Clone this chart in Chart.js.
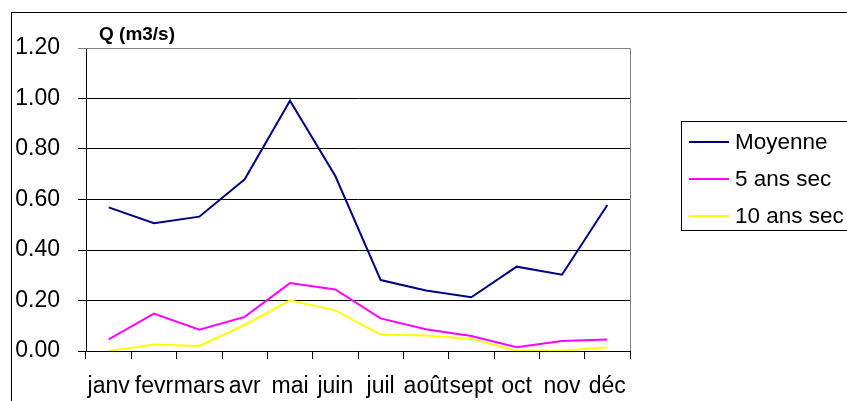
<!DOCTYPE html>
<html>
<head>
<meta charset="utf-8">
<script src="https://cdn.jsdelivr.net/npm/chart.js@4/dist/chart.umd.min.js"></script>
<style>
  html, body { margin: 0; padding: 0; background: #fff; overflow: hidden; }
  #wrap { position: relative; width: 847px; height: 401px; overflow: hidden; font-family: "Liberation Sans", Arial, sans-serif; }
  #frame { position: absolute; left: 11px; top: 12px; width: 1000px; height: 600px; border: 1px solid #000; box-sizing: border-box; pointer-events: none; }
  #c { position: absolute; left: 0; top: 0; }
  #title { position: absolute; left: 99px; top: 24px; font-weight: bold; font-size: 19px; line-height: 19px; white-space: nowrap; }
  #legend { position: absolute; left: 681px; top: 121px; width: 300px; height: 110px; border: 1px solid #000; box-sizing: border-box; }
  .item { position: absolute; left: 0; height: 0; }
  .swatch { position: absolute; left: 7px; width: 40px; height: 2px; }
  .lab { position: absolute; left: 53px; font-size: 22.5px; line-height: 22.5px; white-space: nowrap; }
</style>
</head>
<body>
<div id="wrap">
  <canvas id="c" width="847" height="401"></canvas>
  <div id="frame"></div>
  <div id="title">Q (m3/s)</div>
  <div id="legend"></div>
</div>
<script>
const categories = ["janv", "fevr", "mars", "avr", "mai", "juin", "juil", "août", "sept", "oct", "nov", "déc"];
const moyenne   = [0.569, 0.506, 0.532, 0.680, 0.991, 0.693, 0.281, 0.240, 0.213, 0.334, 0.302, 0.578];
const ansSec5   = [0.046, 0.148, 0.084, 0.135, 0.269, 0.244, 0.129, 0.086, 0.059, 0.015, 0.040, 0.046];
const ansSec10  = [0.000, 0.026, 0.020, 0.103, 0.201, 0.161, 0.065, 0.061, 0.048, 0.001, 0.001, 0.015];
const seriesNames = ["Moyenne", "5 ans sec", "10 ans sec"];
const seriesColors = ["#000080", "#FF00FF", "#FFFF00"];
const yTicks = [0, 0.2, 0.4, 0.6, 0.8, 1.0, 1.2];

const plotBorder = {
  id: 'plotBorder',
  beforeDatasetsDraw(chart) {
    const a = chart.chartArea, ctx = chart.ctx;
    ctx.save();
    ctx.strokeStyle = '#808080';
    ctx.lineWidth = 1;
    ctx.beginPath();
    ctx.moveTo(a.left, a.top + 0.5);
    ctx.lineTo(a.right + 0.5, a.top + 0.5);
    ctx.lineTo(a.right + 0.5, a.bottom);
    ctx.stroke();
    ctx.restore();
  }
};

const FONT = { family: '"Liberation Sans", Arial, sans-serif', size: 23 };

const chart = new Chart(document.getElementById('c'), {
  type: 'line',
  data: {
    labels: categories,
    datasets: [moyenne, ansSec5, ansSec10].map((d, i) => ({
      label: seriesNames[i],
      data: d,
      borderColor: seriesColors[i],
      backgroundColor: seriesColors[i],
      borderWidth: 2,
      pointRadius: 0,
      tension: 0,
      fill: false
    }))
  },
  options: {
    responsive: false,
    animation: false,
    events: [],
    layout: { padding: { left: 0, top: 48, right: 217, bottom: 0 } },
    plugins: { legend: { display: false }, title: { display: false }, tooltip: { enabled: false } },
    scales: {
      x: {
        type: 'category',
        offset: true,
        grid: { offset: true, drawOnChartArea: false, drawTicks: true, tickLength: 8, color: '#000', lineWidth: 1 },
        border: { display: true, color: '#000', width: 1 },
        ticks: { color: '#000', font: FONT, padding: 14, maxRotation: 0, autoSkip: false },
        afterFit(s) { s.height = 50; }
      },
      y: {
        min: 0, max: 1.2,
        afterBuildTicks(s) { s.ticks = yTicks.map(v => ({ value: v })); },
        grid: { color: (c) => (c.tick && c.tick.value === 1.2 ? '#808080' : '#000'), lineWidth: 1, drawTicks: true, tickLength: 8 },
        border: { display: true, color: '#000', width: 1 },
        ticks: { color: '#000', font: FONT, padding: 18, callback: (v) => Number(v).toFixed(2) },
        afterFit(s) { s.width = 86; }
      }
    }
  },
  plugins: [plotBorder]
});

// HTML legend built from the datasets
const legend = document.getElementById('legend');
const rowsY = [20, 57, 94];
chart.data.datasets.forEach((ds, i) => {
  const it = document.createElement('div');
  it.className = 'item';
  it.style.top = rowsY[i] + 'px';
  const sw = document.createElement('div');
  sw.className = 'swatch';
  sw.style.background = ds.borderColor;
  sw.style.top = '-1px';
  const lab = document.createElement('div');
  lab.className = 'lab';
  lab.textContent = ds.label;
  lab.style.top = '-11px';
  it.appendChild(sw); it.appendChild(lab);
  legend.appendChild(it);
});
</script>
</body>
</html>
